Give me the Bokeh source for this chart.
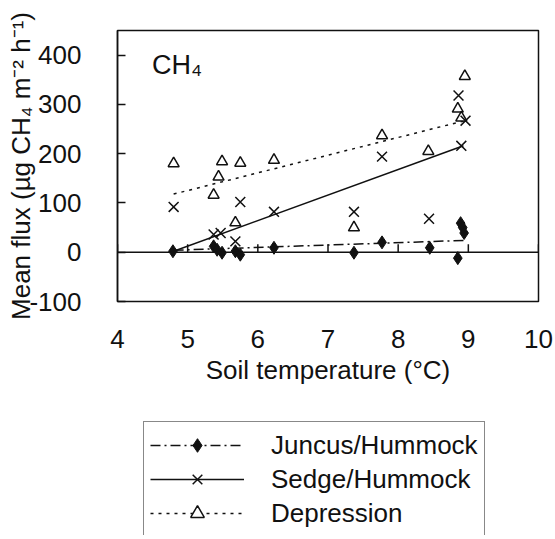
from bokeh.plotting import figure
from bokeh.layouts import column
from bokeh.models import Legend, LegendItem, Span, Label, FixedTicker
from bokeh.embed import file_html
from bokeh.resources import INLINE

# Mean CH4 flux vs soil temperature, per microsite type
juncus_temp = [4.79, 5.37, 5.42, 5.49, 5.68, 5.75, 6.23, 7.37, 7.77, 8.45, 8.85, 8.89, 8.92, 8.94]
juncus_flux = [2, 12, 5, -1, 2, -5, 9, -1, 20, 9, -12, 59, 50, 39]

sedge_temp = [4.80, 5.37, 5.47, 5.68, 5.75, 6.23, 7.37, 7.77, 8.44, 8.86, 8.90, 8.96]
sedge_flux = [92, 36, 39, 22, 102, 82, 82, 194, 68, 318, 216, 267]

depr_temp = [4.80, 5.37, 5.44, 5.49, 5.68, 5.75, 6.23, 7.37, 7.77, 8.43, 8.85, 8.90, 8.95]
depr_flux = [180, 116, 153, 184, 60, 181, 187, 50, 237, 205, 291, 273, 357]

# linear trend lines (start / end)
juncus_fit_t = [4.80, 8.95]
juncus_fit_f = [4, 24]
sedge_fit_t = [4.80, 8.93]
sedge_fit_f = [2, 216]
depr_fit_t = [4.80, 8.95]
depr_fit_f = [118, 267]

x_ticks = [4, 5, 6, 7, 8, 9, 10]
y_ticks = [-100, 0, 100, 200, 300, 400]

series_names = ["Juncus/Hummock", "Sedge/Hummock", "Depression"]

FONT = "Liberation Sans"
INK = "#111111"

# line / marker styles shared by the plot and the legend keys
J_LINE = dict(line_color=INK, line_width=1.5, line_dash="10 4 2 4")
S_LINE = dict(line_color=INK, line_width=1.5)
D_LINE = dict(line_color=INK, line_width=1.5, line_dash="3 5")
J_MARK = dict(marker="diamond", line_color=INK, line_width=1, fill_color=INK)
S_MARK = dict(marker="x", line_color=INK, line_width=1.5)
D_MARK = dict(marker="triangle", line_color=INK, line_width=1.5, fill_color="white")

series = [
    (juncus_temp, juncus_flux, juncus_fit_t, juncus_fit_f, J_LINE, J_MARK, 13),
    (sedge_temp, sedge_flux, sedge_fit_t, sedge_fit_f, S_LINE, S_MARK, 14),
    (depr_temp, depr_flux, depr_fit_t, depr_fit_f, D_LINE, D_MARK, 11),
]

p = figure(width=555, height=400, x_range=(4, 10), y_range=(-100, 450),
           output_backend="svg", toolbar_location=None,
           min_border_left=117, min_border_right=17,
           min_border_top=30, min_border_bottom=99)

p.background_fill_color = "white"
p.border_fill_color = "white"
p.outline_line_color = INK
p.outline_line_width = 1.5
p.grid.visible = False

# y axis: inside ticks on the left frame edge, plain hyphen for negatives
yax = p.yaxis[0]
yax.ticker = FixedTicker(ticks=y_ticks)
yax.major_label_overrides = {v: str(v) for v in y_ticks}
yax.major_tick_in = 8
yax.major_tick_out = 0
yax.minor_tick_line_color = None
yax.axis_line_color = INK
yax.axis_line_width = 1.5
yax.major_tick_line_color = INK
yax.major_tick_line_width = 1.5
yax.major_label_standoff = 36
yax.major_label_text_font = FONT
yax.major_label_text_font_size = "26px"
yax.major_label_text_color = INK
yax.axis_label = "Mean flux (µg CH₄ m⁻² h⁻¹)"
yax.axis_label_text_font = FONT
yax.axis_label_text_font_size = "26px"
yax.axis_label_text_font_style = "normal"
yax.axis_label_text_color = INK
yax.axis_label_standoff = -10

# x axis: labels at the bottom, tick marks drawn on the zero line instead
xax = p.xaxis[0]
xax.ticker = FixedTicker(ticks=x_ticks)
xax.major_tick_in = 0
xax.major_tick_out = 0
xax.minor_tick_line_color = None
xax.axis_line_color = None
xax.major_label_standoff = 28
xax.major_label_text_font = FONT
xax.major_label_text_font_size = "26px"
xax.major_label_text_color = INK
xax.axis_label = "Soil temperature (°C)"
xax.axis_label_text_font = FONT
xax.axis_label_text_font_size = "26px"
xax.axis_label_text_font_style = "normal"
xax.axis_label_text_color = INK
xax.axis_label_standoff = 4

# horizontal axis crossing at zero, with its tick marks
p.add_layout(Span(location=0, dimension="width", line_color=INK, line_width=1.5))
p.segment(x0=x_ticks, y0=[0] * len(x_ticks), x1=x_ticks, y1=[16] * len(x_ticks),
          line_color=INK, line_width=1.5)

# trend lines, then observations on top
for t, f, ft, ff, line_style, mark_style, size in series:
    p.line(ft, ff, **line_style)
for t, f, ft, ff, line_style, mark_style, size in reversed(series):
    p.scatter(t, f, size=size, **mark_style)

p.add_layout(Label(x=4.49, y=380, text="CH₄", text_font=FONT, text_font_size="27px",
                   text_color=INK, text_baseline="alphabetic"))

# legend panel underneath the chart; its own ranges keep the key glyphs' data out of view
leg = figure(width=555, height=135, x_range=(100, 101), y_range=(1000, 1001),
             output_backend="svg", toolbar_location=None,
             x_axis_location=None, y_axis_location=None, min_border=0)
leg.outline_line_color = None
leg.grid.visible = False
leg.background_fill_color = "white"
leg.border_fill_color = "white"

items = []
for name, (t, f, ft, ff, line_style, mark_style, size) in zip(series_names, series):
    r_line = leg.line(ft, ff, **line_style)
    r_mark = leg.scatter(t, f, size=size, **mark_style)
    items.append(LegendItem(label=name, renderers=[r_line, r_mark]))

legend = Legend(items=items, location=(26, -2))
legend.margin = 0
legend.padding = 6
legend.spacing = 0
legend.glyph_width = 94
legend.glyph_height = 34
legend.label_height = 34
legend.label_standoff = 27
legend.label_text_font = FONT
legend.label_text_font_size = "26px"
legend.label_text_color = INK
legend.border_line_color = INK
legend.border_line_width = 1.5
legend.background_fill_color = "white"
legend.background_fill_alpha = 1.0
leg.add_layout(legend, "center")

open("out.html", "w").write(file_html(column(p, leg, spacing=0), INLINE))
